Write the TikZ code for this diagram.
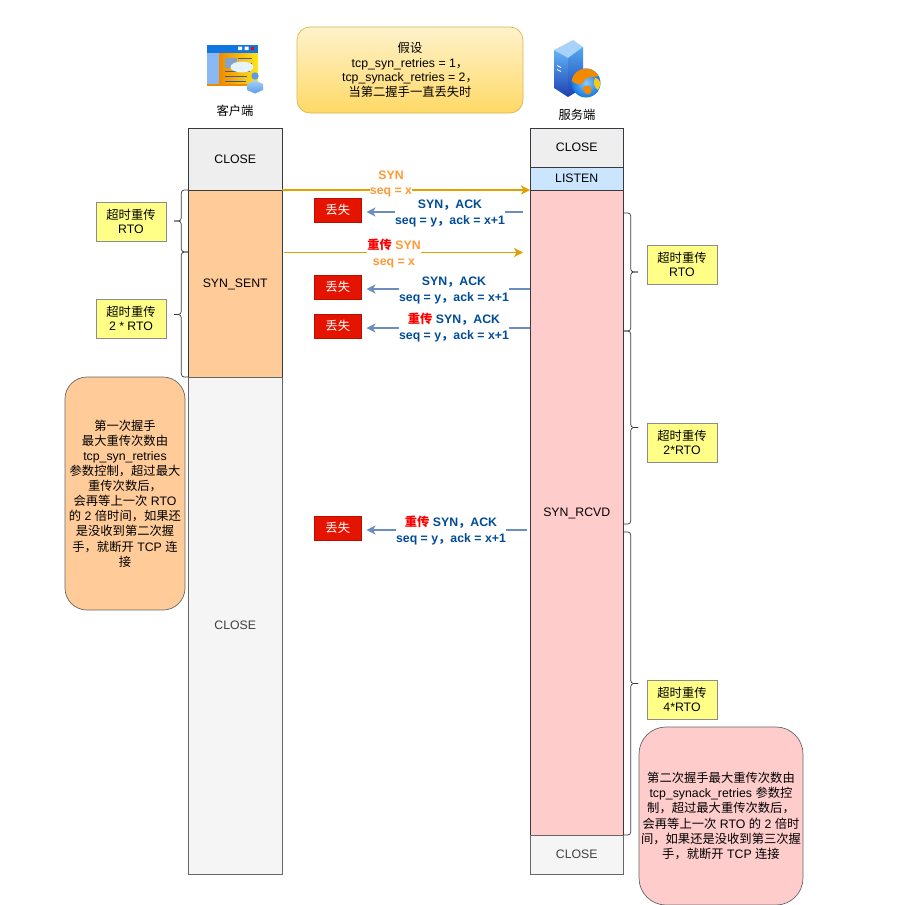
\documentclass[tikz,border=0pt]{standalone}
\usepackage{fontspec}
\usepackage{xcolor}
\usepackage{tikz}
\usetikzlibrary{arrows.meta,positioning,calc}
\setmainfont{Liberation Sans}
\newfontfamily\cjk{Noto Sans CJK SC}
\newcommand{\zh}[1]{{\cjk #1}}
\newcommand{\periodline}[3]{%
  \draw[period] (#1) -- ++(#3,0) -- ($(#1)!0.5!(#2)+(#3,0)$) -- ++(#3,0);
  \draw[period] (#2) -- ++(#3,0) -- ($(#1)!0.5!(#2)+(#3,0)$) -- ++(#3,0);}
\definecolor{stateline}{HTML}{36393D}
\definecolor{closegray}{HTML}{F5F5F5}
\definecolor{closetop}{HTML}{EEEEEE}
\definecolor{listenblue}{HTML}{CCE5FF}
\definecolor{sentorange}{HTML}{FFCC99}
\definecolor{rcvdpink}{HTML}{FFCCCC}
\definecolor{noteyellow}{HTML}{FFFF88}
\definecolor{lostred}{HTML}{E51400}
\definecolor{synarrow}{HTML}{E0A000}
\definecolor{ackarrow}{HTML}{6C8EBF}
\definecolor{synlabel}{HTML}{FF9933}
\definecolor{acklabel}{HTML}{004C99}
\definecolor{tipred}{HTML}{FF0000}
\definecolor{assumetop}{HTML}{FFF2CC}
\definecolor{assumebottom}{HTML}{FFD966}
\definecolor{assumeline}{HTML}{D6B656}
\definecolor{iconbar}{HTML}{1177E0}
\definecolor{iconpanel}{HTML}{8AB8F5}
\definecolor{iconorange}{HTML}{F08A00}
\definecolor{iconyellow}{HTML}{FFE41A}
\definecolor{iconphoto}{HTML}{7FA3C9}
\definecolor{iconlines}{HTML}{3B5E9A}
\definecolor{iconbubble}{HTML}{E6F3FA}
\definecolor{iconperson}{HTML}{5B9CE8}
\definecolor{iconpale}{HTML}{A8D2F8}
\definecolor{icondeep}{HTML}{1C3FB0}
\definecolor{iconsky}{HTML}{62B4F8}
\begin{document}
\begin{tikzpicture}[
  x=1pt, y=-1pt,
  every node/.style={font=\fontsize{12.3}{14.7}\selectfont, align=center, outer sep=0pt, inner sep=0pt},
  clientstate/.style={draw=stateline, line width=0.7pt, minimum width=93.5pt},
  closebox/.style={clientstate, draw=black!60, fill=closegray, text=black!75},
  rtobox/.style={draw=black!45, fill=noteyellow, line width=0.7pt, minimum width=70pt, minimum height=39pt},
  lostbox/.style={draw=lostred!80!black, fill=lostred, text=white, minimum width=47.5pt, minimum height=24pt},
  notebox/.style={draw=black!60, line width=0.7pt, rounded corners=22pt, font=\fontsize{12.3}{15.1}\selectfont},
  synflow/.style={-{Stealth[length=9pt,width=9pt,inset=2.5pt]}, line width=1.1pt, synarrow},
  ackflow/.style={-{Stealth[length=9pt,width=9pt,inset=2.5pt]}, line width=1.2pt, ackarrow, shorten >=5pt},
  flowlabel/.style={font=\fontsize{12.3}{16}\selectfont\bfseries, fill=white},
  period/.style={draw=stateline, line width=0.7pt, rounded corners=3pt}
]
\useasboundingbox (0,0) rectangle (903,905);

% client icon
\fill[iconorange] (207,53) rectangle (258,86);
\shade[left color=iconorange, right color=iconyellow] (219,53) rectangle (258,83);
\fill[iconbar] (207,45) rectangle (258,53);
\fill[iconpanel] (207,53) rectangle (219,84);
\fill[white] (238,46.5) rectangle (242,50) (244.5,46.5) rectangle (248.5,50);
\fill[tipred] (250.5,46.5) rectangle (254,50);
\fill[iconphoto] (225,58) rectangle (237,68);
\draw[iconlines, line width=1pt] (238,58.5) -- (252,58.5) (238,63.5) -- (252,63.5)
  (225,71.5) -- (250,71.5) (225,76.5) -- (247,76.5) (225,81) -- (246,81);
\fill[iconbubble] (242,67) ellipse (11.5 and 5.5);
\fill[iconperson] (255,76) circle (3.7);
\shade[top color=iconpale, bottom color=iconperson] (247,84) -- (255,80) -- (263,84) -- (263,90) -- (255,93.5) -- (247,90) -- cycle;

% server icon
\fill[iconpale] (554,50) -- (573,40) -- (583,47) -- (568,58) -- cycle;
\shade[top color=iconsky, bottom color=icondeep] (554,50) -- (568,58) -- (568,97) -- (554,88) -- cycle;
\shade[top color=iconsky!80!iconbar, bottom color=icondeep] (568,58) -- (583,47) -- (583,88) -- (568,97) -- cycle;
\draw[white, line width=0.8pt] (557,65.5) -- (561,67.5) (557,69.5) -- (561,71.5);
\begin{scope}
  \clip (586,83) circle (14.5);
  \shade[inner color=iconsky!70!white, outer color=iconbar] (586,83) circle (14.5);
  \fill[iconorange] (571,80) .. controls (574,66) and (592,64) .. (600,74) .. controls (598,79) and (590,75) .. (585,79) .. controls (583,86) and (576,86) .. (571,80);
  \fill[iconorange] (583,87) .. controls (588,84) and (593,86) .. (591,92) .. controls (588,98) and (583,92) .. (583,87);
  \fill[iconyellow!70!iconorange] (595,78) .. controls (600,78) and (602,84) .. (598,90) .. controls (594,88) and (593,82) .. (595,78);
\end{scope}

\node (clientname) at (235,111) {\zh{客户端}};
\node (servername) at (577,115) {\zh{服务端}};

\node[draw=assumeline, line width=0.7pt, rounded corners=13pt, top color=assumetop, bottom color=assumebottom,
  minimum width=226pt, minimum height=86pt, anchor=north west] (assume) at (297,27)
  {\zh{假设}\\tcp\_syn\_retries = 1\zh{，}\\tcp\_synack\_retries = 2\zh{，}\\\zh{当第二握手一直丢失时}};

% client states
\node[clientstate, fill=closetop, minimum height=62pt, anchor=north west] (clientclose) at (188.5,128) {CLOSE};
\node[clientstate, fill=sentorange, minimum height=187pt, text depth=0pt, below=0pt of clientclose] (sent) {SYN\_SENT};
\node[closebox, minimum height=497pt, below=0pt of sent] (clientend) {CLOSE};

% server states
\node[clientstate, fill=closetop, minimum height=39pt, anchor=north west] (serverclose) at (530,128) {CLOSE};
\node[clientstate, fill=listenblue, minimum height=23pt, below=0pt of serverclose] (listen) {LISTEN};
\node[clientstate, fill=rcvdpink, minimum height=645pt, text depth=0pt, below=0pt of listen] (rcvd) {SYN\_RCVD};
\node[closebox, minimum height=39pt, below=0pt of rcvd] (serverend) {CLOSE};

% lost marks
\node[lostbox, anchor=north west] (lost1) at (314,198) {\zh{丢失}};
\node[lostbox, anchor=north west] (lost2) at (314,275) {\zh{丢失}};
\node[lostbox, anchor=north west] (lost3) at (314,314) {\zh{丢失}};
\node[lostbox, anchor=north west] (lost4) at (314,516) {\zh{丢失}};

% messages
\coordinate (resend) at (284,252.5);
\coordinate (resendend) at (523,252.5);
\coordinate (ack1) at (523,212);
\coordinate (ack2) at (530,289);
\coordinate (ack3) at (530,328);
\coordinate (ack4) at (527,530);
\draw[synflow] (sent.north east) -- (listen.south west);
\draw[synflow] (resend) -- (resendend);
\draw[ackflow] (ack1) -- (ack1 -| lost1.east);
\draw[ackflow] (ack2) -- (ack2 -| lost2.east);
\draw[ackflow] (ack3) -- (ack3 -| lost3.east);
\draw[ackflow] (ack4) -- (ack4 -| lost4.east);

\node[font=\fontsize{12.3}{16}\selectfont\bfseries, text=synlabel] (syn1) at (391,175) {SYN};
\node[flowlabel, text=synlabel] (seq1) at (391,192) {seq = x};
\node[flowlabel, text=acklabel] (synack1) at (450,213) {SYN\zh{，}ACK\\seq = y\zh{，}ack = x+1};
\node[flowlabel, text=synlabel] (syn2) at (394,254) {\textcolor{tipred}{\zh{重传}} SYN\\seq = x};
\node[flowlabel, text=acklabel] (synack2) at (454,290) {SYN\zh{，}ACK\\seq = y\zh{，}ack = x+1};
\node[flowlabel, text=acklabel] (synack3) at (454,328) {\textcolor{tipred}{\zh{重传}} SYN\zh{，}ACK\\seq = y\zh{，}ack = x+1};
\node[flowlabel, text=acklabel] (synack4) at (451,530) {\textcolor{tipred}{\zh{重传}} SYN\zh{，}ACK\\seq = y\zh{，}ack = x+1};

% retransmission periods
\coordinate (sentsplit) at (188.5,252);
\coordinate (rcvd1) at (623.5,213);
\coordinate (rcvd2) at (623.5,331);
\coordinate (rcvd3) at (623.5,524);
\coordinate (rcvd4) at (623.5,532);
\coordinate (rcvd5) at (623.5,835);
\periodline{sent.north west}{sentsplit}{-7.25}
\periodline{sentsplit}{sent.south west}{-7.25}
\periodline{rcvd1}{rcvd2}{7.25}
\periodline{rcvd2}{rcvd3}{7.25}
\periodline{rcvd4}{rcvd5}{7.25}

\node[rtobox, anchor=north west] (rto1) at (96,202) {\zh{超时重传}\\RTO};
\node[rtobox, anchor=north west] (rto2) at (96,299) {\zh{超时重传}\\2 * RTO};
\node[rtobox, anchor=north west] (rto3) at (647,245) {\zh{超时重传}\\RTO};
\node[rtobox, anchor=north west] (rto4) at (647,423) {\zh{超时重传}\\2*RTO};
\node[rtobox, anchor=north west] (rto5) at (647,680) {\zh{超时重传}\\4*RTO};

% notes
\node[notebox, fill=sentorange, minimum width=120pt, minimum height=233pt, anchor=north west] (synnote) at (65,377)
  {\zh{第一次握手}\\\zh{最大重传次数由}\\tcp\_syn\_retries\\\zh{参数控制，超过最大}\\\zh{重传次数后，}\\\zh{会再等上一次} RTO\\\zh{的} 2 \zh{倍时间，如果还}\\\zh{是没收到第二次握}\\\zh{手，就断开} TCP \zh{连}\\\zh{接}};
\node[notebox, fill=rcvdpink, rounded corners=27pt, minimum width=164pt, minimum height=178pt, anchor=north west] (synacknote) at (639,727)
  {\zh{第二次握手最大重传次数由}\\tcp\_synack\_retries \zh{参数控}\\\zh{制，超过最大重传次数后，}\\\zh{会再等上一次} RTO \zh{的} 2 \zh{倍时}\\\zh{间，如果还是没收到第三次握}\\\zh{手，就断开} TCP \zh{连接}};
\end{tikzpicture}
\end{document}
